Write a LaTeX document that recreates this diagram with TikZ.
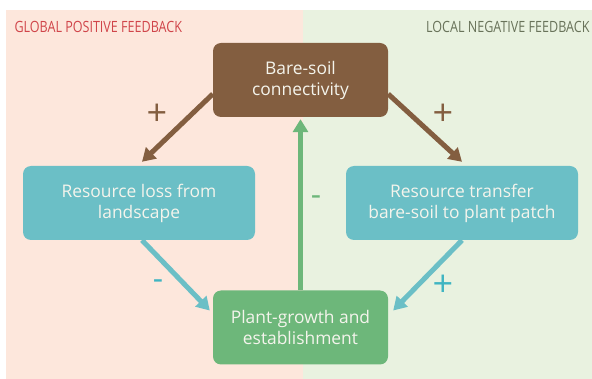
\documentclass[tikz,border=0pt]{standalone}
\usepackage{fontspec}
\setmainfont{Open Sans}
\newfontfamily\headfont[FakeStretch=0.81]{Open Sans}
\usetikzlibrary{positioning,arrows.meta,calc}

\definecolor{pinkbg}{HTML}{FDE7DC}
\definecolor{greenbg}{HTML}{E9F2E0}
\definecolor{soilbrown}{HTML}{835E40}
\definecolor{boxteal}{HTML}{6BBFC6}
\definecolor{plantgreen}{HTML}{6DB77A}
\definecolor{signteal}{HTML}{3FB5C2}
\definecolor{boxtext}{HTML}{F4F4EC}
\definecolor{globalred}{HTML}{D0454A}
\definecolor{localolive}{HTML}{69735A}

\begin{document}
\begin{tikzpicture}[x=1pt,y=-1pt,
  box/.style={rounded corners=8pt, minimum height=74pt, align=center,
    text=boxtext, font=\fontsize{17.4}{21}\selectfont},
  link/.style={line width=5pt, -{Triangle[length=13pt,width=15pt]}},
  sign/.style={inner sep=0pt}
]

% panels
\useasboundingbox (0,0) rectangle (592,379);
\fill[pinkbg] (6,10) rectangle (303,379);
\fill[greenbg] (303,10) rectangle (592,379);

\node[anchor=west, text=globalred, font=\headfont\fontsize{15.5}{16}\selectfont]
  (global) at (11,27) {GLOBAL POSITIVE FEEDBACK};
\node[anchor=east, text=localolive, font=\headfont\fontsize{15.5}{16}\selectfont]
  (local) at (593,27) {LOCAL NEGATIVE FEEDBACK};

% the four boxes
\node[box, fill=soilbrown, minimum width=175pt] (soil) at (300.5,80) {Bare-soil\\connectivity};
\node[box, fill=boxteal, minimum width=232pt] (loss) at (139,203) {Resource loss from\\landscape};
\node[box, fill=boxteal, minimum width=232pt] (transfer) at (462,203) {Resource transfer\\bare-soil to plant patch};
\node[box, fill=plantgreen, minimum width=175pt] (growth) at (300.5,327.5) {Plant-growth and\\establishment};

% links
\draw[link, soilbrown] ([yshift=-14pt]soil.west) -- ([xshift=3pt,yshift=4pt]loss.north);
\draw[link, soilbrown] ([yshift=-14pt]soil.east) -- ([yshift=4pt]transfer.north);
\draw[link, plantgreen] (growth.north) -- ([yshift=-2pt]soil.south);
\draw[link, boxteal] ([xshift=3pt]loss.south) -- ([xshift=-3pt,yshift=17pt]growth.west);
\draw[link, boxteal] (transfer.south) -- ([xshift=5pt,yshift=17pt]growth.east);

% signs
\foreach \name/\x/\y/\txt/\col/\size in {lossplus/157/115/+/soilbrown/36,
    transferplus/443/115/+/soilbrown/36, growthminus/316/201/-/plantgreen/32,
    lossminus/158/285/-/signteal/32, plantplus/443/286/+/signteal/36} {
  \node[sign, text=\col, font=\fontsize{\size}{\size}\selectfont] (\name) at (\x,\y) {\txt};
}
\end{tikzpicture}
\end{document}
